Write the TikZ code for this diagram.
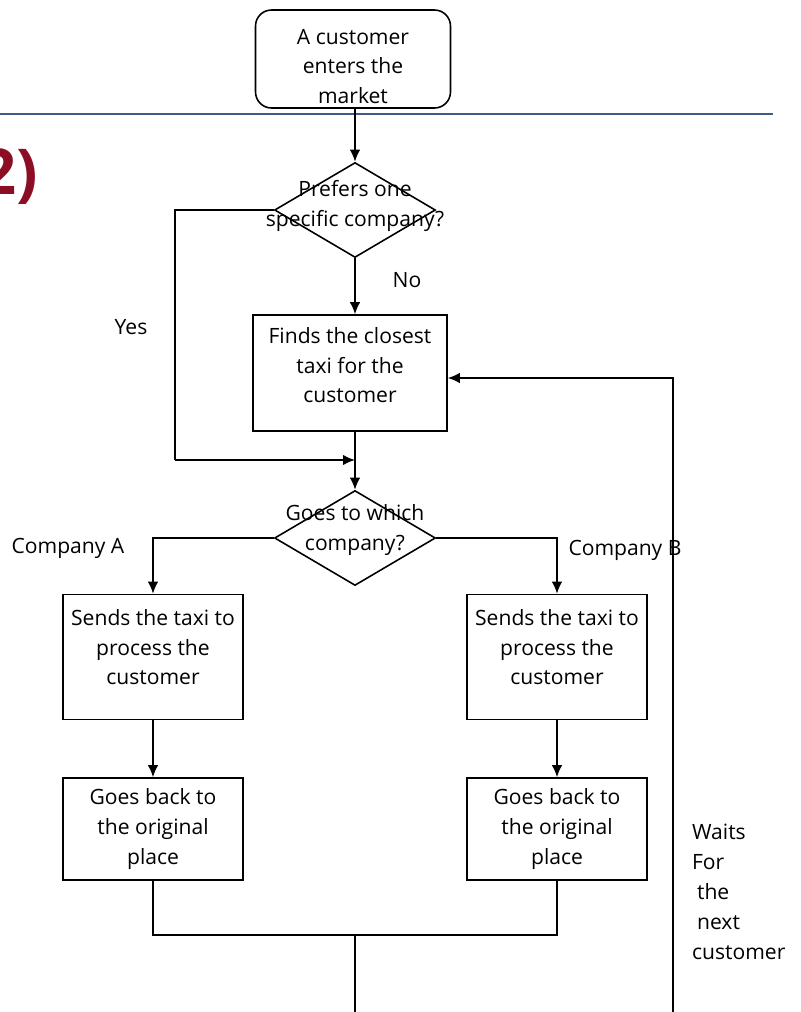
\documentclass[tikz,border=0pt]{standalone}
\usepackage{fontspec}
\setsansfont{Open Sans}
\usetikzlibrary{shapes.geometric,arrows.meta}
\definecolor{rulecol}{RGB}{62,92,135}
\definecolor{titlered}{RGB}{140,14,36}

\begin{document}
\begin{tikzpicture}[x=0.02cm, y=-0.02cm,
                    every node/.style={font=\sffamily\fontsize{12}{17}\selectfont, align=center},
                    box/.style={rectangle, draw, line width=0.9pt},
                    decision/.style={diamond, draw, line width=0.9pt, inner sep=0pt, minimum width=3.22cm, minimum height=1.9cm},
                    plain/.style={inner sep=1pt},
                    arr/.style={-{Latex[length=2.4mm,width=2.1mm]}, line width=0.9pt},
                    line/.style={line width=0.9pt}]

    \useasboundingbox (0,0) rectangle (801,1012);

    % slide decoration
    \draw[rulecol, line width=1.3pt] (0,114) -- (773,114); % header rule
    \node[font=\sffamily\bfseries\fontsize{36}{40}\selectfont, text=titlered, anchor=east, inner sep=0pt] (title) at (38,177) {2)}; % cut-off title

    % Main nodes
    \node[box, rounded corners=3.2mm, minimum width=3.9cm, minimum height=1.96cm,
          label={[align=center, yshift=-0.15cm]center:A customer\\enters the\\market}] (start) at (353,59) {};
    \node[decision, label={[align=center, yshift=0.08cm]center:Prefers one\\specific company?}] (d1) at (355,210) {};
    \node[box, minimum width=3.88cm, minimum height=2.32cm] (find) at (350,373) {Finds the closest\\taxi for the\\customer\\[-0.28cm]};
    \node[decision, label={[align=center, yshift=0.16cm]center:Goes to which\\company?}] (d2) at (355,538) {};
    \node[box, minimum width=3.6cm, minimum height=2.5cm] (sendA) at (153,657) {Sends the taxi to\\process the\\customer\\[-0.2cm]};
    \node[box, minimum width=3.6cm, minimum height=2.5cm] (sendB) at (557,657) {Sends the taxi to\\process the\\customer\\[-0.2cm]};
    \node[box, minimum width=3.6cm, minimum height=2.04cm] (backA) at (153,829) {Goes back to\\the original\\place};
    \node[box, minimum width=3.6cm, minimum height=2.04cm] (backB) at (557,829) {Goes back to\\the original\\place};

    % Free ends of connectors
    \coordinate (yesc) at (175,460);  % left bend of the Yes branch
    \coordinate (join) at (355,460);  % where Yes meets the main line
    \coordinate (mrg) at (355,935);   % merge of both companies
    \coordinate (exit) at (355,1012); % line leaving at the bottom
    \coordinate (fbot) at (673,1012); % foot of the return line

    % Connectors
    \draw[arr] (start.south -| d1.north) -- (d1.north);
    \draw[line] (d1.west) -| (yesc);
    \draw[arr] (yesc) -- (join);
    \draw[arr] (d1.south) -- (d1.south |- find.north);
    \draw[arr] (find.south -| d2.north) -- (d2.north);
    \draw[arr] (d2.west) -| (sendA.north);
    \draw[arr] (d2.east) -| (sendB.north);
    \draw[arr] (sendA.south) -- (backA.north);
    \draw[arr] (sendB.south) -- (backB.north);
    \draw[line] (backA.south) -- (backA.south |- mrg) -- (backB.south |- mrg) -- (backB.south);
    \draw[line] (mrg) -- (exit);
    \draw[arr] (fbot) |- ([yshift=-0.1cm]find.east);

    % Text labels
    \node[plain] (yes) at (131,327) {Yes};
    \node[plain] (no) at (407,280) {No};
    \node[plain] (compA) at (68,548) {Company A};
    \node[plain] (compB) at (625,550) {Company B};
    \node[plain, align=left, anchor=north west] (wait) at (690,822) {Waits\\For\\\hspace*{1mm}the\\\hspace*{1mm}next\\customer};
\end{tikzpicture}
\end{document}
